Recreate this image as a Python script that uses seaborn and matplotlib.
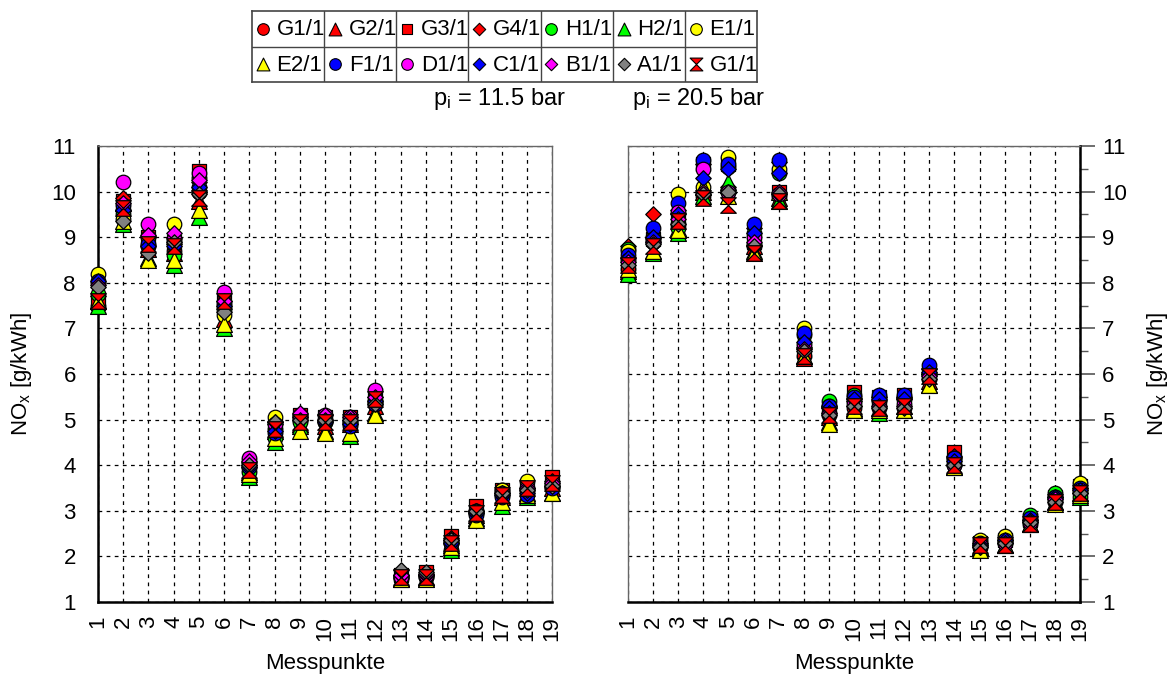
import numpy as np
import pandas as pd
import seaborn as sns
import matplotlib
matplotlib.use("Agg")
import matplotlib.pyplot as plt
from matplotlib.path import Path

# Measurement points
points = list(range(1, 20))

# Series: name, colour, marker kind
names = ["G1/1", "G2/1", "G3/1", "G4/1", "H1/1", "H2/1", "E1/1",
         "E2/1", "F1/1", "D1/1", "C1/1", "B1/1", "A1/1", "G1/1"]
colors = ["#FF0000", "#FF0000", "#FF0000", "#FF0000", "#00FF00", "#00FF00", "#FFFF00",
          "#FFFF00", "#0000FF", "#FF00FF", "#0000FF", "#FF00FF", "#808080", "#FF0000"]
kinds = ["circle", "triangle", "square", "diamond", "circle", "triangle", "circle",
         "triangle", "circle", "circle", "diamond", "diamond", "diamond", "hourglass"]

# NOx [g/kWh] at p_i = 11.5 bar
G1_lo = [7.5, 9.6, 8.8, 8.7, 10.0, 7.5, 3.95, 4.8, 5.0, 4.95, 4.95, 5.4, 1.55, 1.55, 2.3, 2.95, 3.35, 3.45, 3.55]
G2_lo = [7.6, 9.75, 8.75, 8.65, 9.8, 7.2, 3.85, 4.75, 4.9, 4.85, 4.9, 5.3, 1.5, 1.55, 2.25, 2.9, 3.3, 3.4, 3.5]
G3_lo = [7.55, 9.8, 9.0, 8.9, 10.45, 7.6, 4.0, 4.85, 5.1, 5.05, 5.05, 5.55, 1.6, 1.65, 2.45, 3.1, 3.45, 3.55, 3.75]
G4_lo = [7.7, 9.85, 9.0, 8.85, 10.2, 7.6, 4.0, 4.9, 5.05, 5.0, 5.0, 5.5, 1.6, 1.6, 2.4, 3.0, 3.4, 3.5, 3.65]
H1_lo = [7.75, 9.5, 8.8, 8.6, 10.0, 7.4, 3.85, 4.6, 4.95, 4.95, 4.9, 5.35, 1.5, 1.55, 2.15, 3.0, 3.45, 3.45, 3.5]
H2_lo = [7.5, 9.3, 8.55, 8.4, 9.45, 7.0, 3.75, 4.5, 4.85, 4.75, 4.65, 5.15, 1.5, 1.5, 2.15, 2.85, 3.1, 3.3, 3.4]
E1_lo = [8.2, 9.4, 9.0, 9.3, 10.3, 7.3, 4.05, 5.05, 5.05, 5.0, 4.95, 5.4, 1.55, 1.6, 2.3, 2.95, 3.45, 3.65, 3.55]
E2_lo = [7.6, 9.35, 8.5, 8.5, 9.6, 7.1, 3.8, 4.6, 4.75, 4.7, 4.7, 5.1, 1.5, 1.5, 2.2, 2.8, 3.2, 3.35, 3.4]
F1_lo = [8.05, 9.7, 8.85, 8.9, 10.1, 7.55, 3.95, 4.7, 5.05, 5.0, 4.85, 5.35, 1.55, 1.6, 2.3, 2.9, 3.3, 3.35, 3.5]
D1_lo = [8.0, 10.2, 9.3, 8.95, 10.4, 7.8, 4.15, 4.9, 5.1, 5.1, 5.05, 5.65, 1.55, 1.6, 2.35, 3.0, 3.4, 3.5, 3.6]
C1_lo = [8.05, 9.6, 8.8, 8.8, 10.1, 7.5, 3.95, 4.75, 5.0, 4.95, 4.9, 5.4, 1.6, 1.6, 2.3, 2.95, 3.35, 3.4, 3.55]
B1_lo = [7.95, 9.75, 9.05, 9.1, 10.25, 7.6, 4.1, 4.95, 5.15, 5.1, 5.05, 5.5, 1.6, 1.62, 2.35, 3.0, 3.4, 3.5, 3.6]
A1_lo = [7.9, 9.35, 8.65, 8.9, 9.95, 7.35, 4.0, 4.95, 5.0, 5.0, 5.0, 5.35, 1.7, 1.65, 2.35, 3.0, 3.4, 3.45, 3.55]
G1b_lo = [7.6, 9.65, 8.85, 8.8, 9.85, 7.6, 3.9, 4.8, 4.95, 4.95, 4.95, 5.45, 1.55, 1.55, 2.3, 2.95, 3.35, 3.5, 3.6]

# NOx [g/kWh] at p_i = 20.5 bar
G1_hi = [8.3, 8.9, 9.3, 9.9, 10.0, 8.8, 9.9, 6.4, 5.1, 5.25, 5.25, 5.25, 5.9, 4.0, 2.2, 2.3, 2.7, 3.2, 3.4]
G2_hi = [8.25, 8.7, 9.2, 10.0, 10.15, 8.8, 9.85, 6.35, 5.05, 5.25, 5.25, 5.3, 5.85, 3.95, 2.2, 2.25, 2.7, 3.2, 3.4]
G3_hi = [8.4, 8.95, 9.4, 10.6, 10.6, 8.9, 10.0, 6.5, 5.2, 5.6, 5.5, 5.55, 6.0, 4.3, 2.3, 2.35, 2.8, 3.3, 3.55]
G4_hi = [8.8, 9.5, 9.6, 10.6, 10.1, 9.2, 10.65, 6.6, 5.3, 5.4, 5.5, 5.5, 6.1, 4.2, 2.3, 2.35, 2.8, 3.3, 3.5]
H1_hi = [8.75, 8.9, 9.2, 10.0, 10.55, 9.1, 10.4, 6.85, 5.4, 5.55, 5.5, 5.5, 6.0, 4.1, 2.25, 2.35, 2.9, 3.4, 3.3]
H2_hi = [8.2, 8.65, 9.1, 9.9, 10.2, 8.7, 9.8, 6.4, 4.95, 5.2, 5.15, 5.2, 5.75, 3.95, 2.2, 2.25, 2.7, 3.2, 3.3]
E1_hi = [8.7, 9.0, 9.95, 10.1, 10.75, 8.85, 10.5, 7.0, 5.3, 5.4, 5.4, 5.45, 6.0, 4.15, 2.35, 2.45, 2.8, 3.3, 3.6]
E2_hi = [8.3, 8.7, 9.15, 10.1, 9.9, 8.65, 10.0, 6.4, 4.9, 5.2, 5.2, 5.2, 5.75, 3.95, 2.15, 2.25, 2.7, 3.15, 3.35]
F1_hi = [8.6, 9.2, 9.75, 10.7, 10.6, 9.3, 10.7, 6.9, 5.3, 5.5, 5.55, 5.55, 6.2, 4.15, 2.3, 2.35, 2.85, 3.3, 3.5]
D1_hi = [8.5, 8.95, 9.55, 10.5, 10.0, 9.0, 9.95, 6.65, 5.15, 5.35, 5.3, 5.35, 6.0, 4.0, 2.25, 2.3, 2.75, 3.25, 3.45]
C1_hi = [8.55, 9.0, 9.5, 10.3, 10.5, 9.1, 10.4, 6.7, 5.25, 5.45, 5.45, 5.45, 6.05, 4.1, 2.25, 2.35, 2.8, 3.3, 3.45]
B1_hi = [8.45, 8.9, 9.4, 10.0, 10.0, 8.9, 10.0, 6.55, 5.15, 5.3, 5.3, 5.3, 5.95, 4.0, 2.2, 2.3, 2.75, 3.25, 3.4]
A1_hi = [8.4, 8.85, 9.3, 9.95, 10.0, 8.8, 9.95, 6.5, 5.1, 5.3, 5.25, 5.25, 5.9, 4.0, 2.2, 2.3, 2.75, 3.2, 3.4]
G1b_hi = [8.4, 8.8, 9.35, 9.85, 9.7, 8.65, 9.8, 6.4, 5.1, 5.3, 5.25, 5.3, 5.95, 4.0, 2.25, 2.25, 2.7, 3.2, 3.4]

series_lo = [G1_lo, G2_lo, G3_lo, G4_lo, H1_lo, H2_lo, E1_lo, E2_lo, F1_lo, D1_lo, C1_lo, B1_lo, A1_lo, G1b_lo]
series_hi = [G1_hi, G2_hi, G3_hi, G4_hi, H1_hi, H2_hi, E1_hi, E2_hi, F1_hi, D1_hi, C1_hi, B1_hi, A1_hi, G1b_hi]

titles = ["p$_\\mathregular{i}$ = 11.5 bar", "p$_\\mathregular{i}$ = 20.5 bar"]
ylabel = "NO$_\\mathregular{x}$ [g/kWh]"
xlabel = "Messpunkte"

sns.set_style("white")
plt.rcParams["font.family"] = ["Liberation Sans", "DejaVu Sans"]
plt.rcParams["mathtext.fontset"] = "custom"
plt.rcParams["mathtext.rm"] = "Liberation Sans"
plt.rcParams["mathtext.default"] = "regular"
plt.rcParams["text.color"] = "black"
plt.rcParams["axes.labelcolor"] = "black"
plt.rcParams["xtick.labelcolor"] = "black"
plt.rcParams["ytick.labelcolor"] = "black"

hourglass = Path([(-1, 1), (1, 1), (0, 0), (1, -1), (-1, -1), (0, 0), (-1, 1)],
                 [Path.MOVETO, Path.LINETO, Path.LINETO, Path.LINETO,
                  Path.LINETO, Path.LINETO, Path.CLOSEPOLY])
marker_of = {"circle": "o", "triangle": "^", "square": "s", "diamond": "D", "hourglass": hourglass}
size_of = {"circle": 110, "triangle": 130, "square": 100, "diamond": 62, "hourglass": 125}

fig = plt.figure(figsize=(11.74, 6.78), dpi=100)
W, H = 1174, 678
ax_lo = fig.add_axes([98 / W, 1 - 602 / H, 454 / W, 456 / H])
ax_hi = fig.add_axes([628 / W, 1 - 602 / H, 452 / W, 456 / H])

FS = 16
for ax, data in ((ax_lo, series_lo), (ax_hi, series_hi)):
    for i, (vals, col, kind) in enumerate(zip(data, colors, kinds)):
        df = pd.DataFrame({"Messpunkt": points, "NOx": vals})
        sns.scatterplot(data=df, x="Messpunkt", y="NOx", ax=ax, marker=marker_of[kind],
                        color=col, edgecolor="black", linewidth=0.9, s=size_of[kind],
                        zorder=3 + i, legend=False, clip_on=False)
    ax.set_xlim(1, 19)
    ax.set_ylim(1, 11)
    ax.set_xticks(points)
    ax.set_xticklabels([str(p) for p in points], rotation=90, fontsize=FS)
    ax.set_yticks(range(1, 12))
    ax.set_yticks(np.arange(1.5, 11, 1.0), minor=True)
    ax.tick_params(axis="y", which="major", length=11, width=1.2, labelsize=FS, pad=5,
                   color="#555555", labelcolor="black")
    ax.tick_params(axis="y", which="minor", length=6, width=1.0, color="#555555")
    ax.tick_params(axis="x", which="major", length=7, width=1.0, labelsize=FS, pad=3,
                   color="#333333", labelcolor="black")
    ax.grid(True, which="major", color="black", linestyle=(0, (3, 3.5)), linewidth=0.9)
    ax.set_axisbelow(True)
    ax.set_xlabel(xlabel, fontsize=FS, labelpad=9, color="black")
    ax.set_ylabel("")
    for s in ax.spines.values():
        s.set_color("#666666")
        s.set_linewidth(1.0)
    ax.spines["bottom"].set_color("black")
    ax.spines["bottom"].set_linewidth(1.8)

ax_lo.spines["left"].set_color("black")
ax_lo.spines["left"].set_linewidth(1.8)

ax_hi.yaxis.tick_right()
ax_hi.spines["right"].set_color("black")
ax_hi.spines["right"].set_linewidth(1.8)

# y-axis titles on both outer sides
fig.text(22 / W, 1 - 374 / H, ylabel, rotation=90, ha="center", va="center", fontsize=FS)
fig.text(1157 / W, 1 - 374 / H, ylabel, rotation=90, ha="center", va="center", fontsize=FS)

ax_lo.text(1.03, 1.103, titles[0], transform=ax_lo.transAxes, ha="right", va="center", fontsize=17)
ax_hi.text(0.008, 1.103, titles[1], transform=ax_hi.transAxes, ha="left", va="center", fontsize=17)

# Legend table: two rows of seven entries with cell borders
lg = fig.add_axes([252 / W, 1 - 82 / H, 505 / W, 71 / H])
lg.set_xlim(0, 7)
lg.set_ylim(2, 0)
lg.set_xticks([])
lg.set_yticks([])
for s in lg.spines.values():
    s.set_color("#444444")
    s.set_linewidth(1.2)
for c in range(1, 7):
    lg.axvline(c, color="#444444", linewidth=1.0)
lg.axhline(1, color="#444444", linewidth=1.0)
leg_size = {"circle": 70, "triangle": 85, "square": 62, "diamond": 40, "hourglass": 85}
for k, (name, col, kind) in enumerate(zip(names, colors, kinds)):
    r, c = divmod(k, 7)
    lg.scatter([c + 0.15], [r + 0.5], marker=marker_of[kind], color=col, edgecolor="black",
               linewidth=0.8, s=leg_size[kind], zorder=3)
    lg.text(c + 0.34, r + 0.53, name, ha="left", va="center", fontsize=FS)

fig.savefig("out.png", dpi=100)
